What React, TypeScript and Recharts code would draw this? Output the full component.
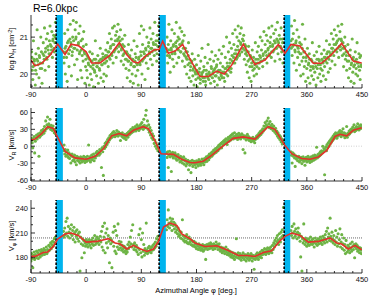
import React from "react";
import {
  ComposedChart,
  XAxis,
  YAxis,
  Scatter,
  Line,
  ReferenceArea,
  ReferenceLine,
} from "recharts";

const GREEN = "#6db445";
const RED = "#e3302a";
const CYAN = "#00b4ee";
const FONT = "'Liberation Sans', Arial, sans-serif";

const xTicks = [-90, -75, -60, -45, -30, -15, 0, 15, 30, 45, 60, 75, 90, 105, 120, 135, 150, 165, 180, 195, 210, 225, 240, 255, 270, 285, 300, 315, 330, 345, 360, 375, 390, 405, 420, 435, 450];
const xMajorTicks = [-90, 0, 90, 180, 270, 360, 450];

const armBands: [number, number][] = [[-49, -38], [119, 130], [323, 333]];

const nhTicks = [19.67, 20, 20.33, 20.67, 21, 21.33];
const nhMajor = [20, 21];
const vrTicks = [-60, -50, -40, -30, -20, -10, 0, 10, 20, 30, 40, 50, 60];
const vrMajor = [-60, -30, 0, 30, 60];
const vpTicks = [170, 180, 190, 200, 210, 220, 230, 240];
const vpMajor = [180, 210, 240];

const nhLine: [number, number][] = [[-90,20.38],[-83.5,20.22],[-72.6,20.29],[-59,20.51],[-46.5,20.81],[-34.5,20.53],[-24.7,20.81],[-12.8,20.77],[0,20.6],[9,20.3],[22.6,20.3],[39,20.51],[54,20.85],[66,20.53],[77,20.33],[85,20.3],[98.7,20.51],[110.6,20.65],[119.3,20.67],[124.8,20.89],[134,20.56],[145,20.62],[157.5,20.8],[169.4,20.4],[185.7,19.93],[199,19.93],[213,20.08],[225.3,20.0],[237.4,20.24],[256.4,20.81],[275.4,20.26],[291.7,20.38],[313.4,20.8],[324.4,20.56],[334,20.8],[348.8,20.76],[370.5,20.29],[384,20.29],[400.5,20.53],[416.8,20.83],[435.8,20.35],[449.5,20.3]];

const vrLine: [number, number][] = [[-90,11],[-83.5,12.7],[-72.6,22.5],[-62.8,34.7],[-53.6,31.7],[-46.5,15.6],[-34.5,-9.4],[-18.2,-20.8],[0,-23.2],[14.6,-18],[28.1,-4.7],[41.6,18.4],[54,22.5],[66,18.4],[77,28.3],[93.2,34.7],[101.4,31.2],[112.3,9.7],[122.1,-13.4],[142.2,-14.6],[155.8,-23.2],[169.4,-29],[177.5,-29.5],[191,-26.7],[204.6,-16.3],[220.9,-1.7],[239.8,13.9],[256.4,16.6],[275.4,12.7],[297,34.7],[308,30],[324.4,1],[335.3,-13.4],[351.6,-22],[365.3,-23.2],[378.8,-19.1],[392.5,-7.6],[406,17.3],[414.1,21.3],[425,18.4],[435.8,28.3],[449.5,33]];

const vpLine: [number, number][] = [[-90,181.6],[-83.5,181.6],[-70,186.4],[-62.8,186.9],[-53.6,193.7],[-46.5,202.7],[-34.5,208.8],[-24.7,210],[-12.8,207.1],[0,199],[17.3,199.8],[36.3,203.1],[47.2,197.9],[55.4,196.6],[66.3,190.6],[77.2,195],[88,191],[99,187.7],[109.9,190.6],[118,199.8],[126.2,217.3],[136.8,222.1],[147.8,219.2],[156,208.8],[169.4,203.1],[177.5,197.9],[193.9,193.7],[213,194.6],[229.3,189.7],[248.3,182.8],[262,182.8],[275.4,181.6],[289,186.4],[302.6,188.5],[316.3,200.6],[324.4,205.9],[335.3,210],[349,207.1],[362.5,199],[378.8,199.8],[397.8,204],[408.7,197.9],[416.8,196.6],[427.7,190.6],[438.6,195],[449.5,189.7]];

const nhSpread: [number, number][] = [
[-89,20.6],[-88,20.1],[-87,19.85],[-86,20.9],[-85,20.4],[-84,20.25],[-83,19.7],[-82,20.55],[-81,20.0],[-80,21.2],[-79,20.35],[-78,20.7],[-77,19.9],[-76,20.45],[-75,20.15],[-74,21.0],[-73,20.6],[-72,19.75],[-71,20.3],[-70,20.85],[-69,20.5],[-68,21.25],[-67,20.1],[-66,20.7],[-65,20.95],[-64,20.4],[-63,21.1],[-62,20.65],[-61,20.2],[-60,20.9],[-59,21.3],[-58,20.55],[-57,20.75],[-56,21.15],[-55,20.45],[-54,20.95],[-53,21.05],[-52,20.6],[-51,20.85],[-50,21.4],
[-37,20.6],[-36,20.3],[-35,21.1],[-34,20.0],[-33,20.75],[-32,20.45],[-31,19.8],[-30,21.2],[-29,20.9],[-28,20.2],[-27,20.65],[-26,21.35],[-25,20.85],[-24,19.95],[-23,20.5],[-22,21.0],[-21,21.45],[-20,20.7],[-19,20.25],[-18,21.2],[-17,20.95],[-16,21.4],[-15,20.4],[-14,19.85],[-13,20.8],[-12,21.1],[-11,20.55],[-10,21.3],[-9,20.1],[-8,20.65],[-7,19.9],[-6,20.95],[-5,20.35],[-4,21.15],[-3,20.6],[-2,19.75],[-1,20.2],[0,20.8],
[1,20.1],[2,19.9],[3,20.45],[4,20.25],[5,19.7],[6,20.6],[7,20.0],[8,20.35],[9,19.85],[10,20.55],[11,20.15],[12,19.65],[13,20.4],[14,20.05],[15,20.9],[16,20.3],[17,19.95],[18,20.2],[19,20.5],[20,19.75],[21,20.35],[22,20.1],[23,20.7],[24,19.9],[25,20.4],[26,20.25],[27,20.55],[28,19.8],[29,20.0],[30,20.45],[31,20.3],[32,20.65],[33,19.95],[34,20.5],[35,20.85],[36,20.2],[37,20.6],[38,21.1],[39,20.4],[40,20.75],
[41,20.95],[42,20.5],[43,21.25],[44,20.3],[45,20.8],[46,21.3],[47,20.65],[48,21.05],[49,20.45],[50,21.15],[51,20.9],[52,21.35],[53,20.6],[54,21.0],[55,20.8],[56,21.2],[57,20.35],[58,20.7],[59,20.95],[60,20.5],[61,20.25],[62,20.75],[63,21.05],[64,20.4],[65,20.15],[66,20.6],[67,19.9],[68,20.35],[69,20.8],[70,20.1],[71,20.5],[72,19.8],[73,20.25],[74,20.65],[75,20.0],[76,20.4],[77,19.75],[78,20.9],[79,20.2],[80,20.55],
[81,19.95],[82,20.3],[83,20.75],[84,20.1],[85,19.7],[86,20.45],[87,21.1],[88,20.25],[89,20.6],[90,21.3],[91,20.0],[92,20.8],[93,20.4],[94,21.2],[95,20.55],[96,19.85],[97,20.7],[98,20.3],[99,21.0],[100,20.5],[101,20.15],[102,20.85],[103,20.6],[104,21.25],[105,20.4],[106,20.95],[107,20.7],[108,20.25],[109,21.1],[110,20.8],[111,20.5],[112,21.4],[113,20.65],[114,20.9],[115,20.35],[116,21.05],[117,20.75],[118,21.3],
[131,20.6],[132,21.0],[133,20.3],[134,20.8],[135,21.35],[136,20.5],[137,20.05],[138,20.9],[139,20.65],[140,21.2],[141,20.4],[142,20.75],[143,20.2],[144,21.1],[145,20.55],[146,20.85],[147,21.4],[148,20.3],[149,20.7],[150,21.0],[151,20.45],[152,20.95],[153,21.25],[154,20.6],[155,20.8],[156,21.15],[157,20.35],[158,20.9],[159,20.55],[160,21.05],[161,20.2],[162,20.7],[163,20.45],[164,20.0],[165,20.6],[166,20.25],[167,20.85],[168,19.9],[169,20.4],[170,20.1],
[171,19.8],[172,20.3],[173,20.55],[174,19.95],[175,20.15],[176,19.7],[177,20.4],[178,20.05],[179,19.85],[180,20.25],[181,19.65],[182,20.0],[183,20.5],[184,19.9],[185,20.15],[186,19.75],[187,20.35],[188,19.95],[189,20.7],[190,20.05],[191,19.8],[192,20.2],[193,19.9],[194,20.45],[195,19.7],[196,20.1],[197,19.95],[198,20.3],[199,20.8],[200,19.85],[201,20.0],[202,20.4],[203,19.75],[204,20.2],[205,20.6],[206,19.9],[207,20.05],[208,20.35],[209,19.8],[210,20.15],
[211,20.5],[212,19.95],[213,20.25],[214,19.7],[215,20.4],[216,20.1],[217,20.65],[218,19.85],[219,20.3],[220,20.0],[221,20.55],[222,19.9],[223,20.2],[224,20.75],[225,20.05],[226,19.8],[227,20.45],[228,20.15],[229,21.0],[230,20.3],[231,19.95],[232,20.6],[233,20.2],[234,20.85],[235,20.4],[236,20.05],[237,20.7],[238,20.5],[239,21.1],[240,20.3],[241,20.8],[242,20.55],[243,21.2],[244,20.65],[245,20.4],[246,21.0],[247,20.75],[248,21.3],[249,20.9],[250,20.5],
[251,21.1],[252,20.85],[253,21.25],[254,20.6],[255,20.95],[256,20.7],[257,21.05],[258,20.4],[259,20.8],[260,20.55],[261,20.25],[262,20.6],[263,20.05],[264,20.35],[265,20.75],[266,19.9],[267,20.2],[268,20.5],[269,19.8],[270,20.3],[271,20.65],[272,20.1],[273,20.45],[274,19.95],[275,20.25],[276,20.85],[277,20.4],[278,20.0],[279,20.6],[280,20.3],
[281,20.75],[282,20.15],[283,20.5],[284,21.0],[285,20.35],[286,20.65],[287,20.9],[288,20.2],[289,20.55],[290,21.15],[291,20.4],[292,20.8],[293,20.6],[294,21.05],[295,20.3],[296,20.9],[297,20.7],[298,21.25],[299,20.5],[300,20.85],[301,21.0],[302,20.45],[303,21.3],[304,20.75],[305,20.6],[306,21.1],[307,20.9],[308,20.35],[309,21.2],[310,20.7],[311,20.95],[312,21.4],[313,20.55],[314,20.85],[315,21.05],[316,20.4],[317,20.75],[318,21.25],[319,20.6],[320,20.95],[321,20.3],
[334,20.9],[335,21.3],[336,20.5],[337,20.75],[338,21.1],[339,20.3],[340,21.45],[341,20.6],[342,20.85],[343,20.1],[344,21.2],[345,20.45],[346,20.7],[347,21.0],[348,20.25],[349,20.55],[350,19.95],[351,20.8],[352,20.35],[353,21.35],[354,20.0],[355,20.6],[356,20.2],[357,20.95],[358,19.8],[359,20.45],[360,20.15],[361,20.7],[362,19.9],[363,20.3],[364,20.55],[365,19.75],[366,20.1],[367,20.4],[368,19.95],[369,20.85],[370,20.2],
[371,19.85],[372,20.5],[373,20.05],[374,20.3],[375,19.7],[376,20.6],[377,20.15],[378,19.9],[379,20.4],[380,20.75],[381,20.0],[382,20.25],[383,19.8],[384,20.55],[385,20.1],[386,20.35],[387,19.95],[388,20.65],[389,20.2],[390,20.45],[391,19.85],[392,20.9],[393,20.3],[394,20.6],[395,20.05],[396,20.4],[397,20.8],[398,20.15],[399,20.55],[400,21.1],
[401,20.35],[402,20.7],[403,20.95],[404,20.5],[405,21.2],[406,20.25],[407,20.8],[408,21.05],[409,20.6],[410,20.9],[411,21.3],[412,20.45],[413,20.75],[414,21.15],[415,20.65],[416,20.95],[417,21.35],[418,20.5],[419,20.85],[420,20.2],[421,20.7],[422,21.0],[423,20.4],[424,20.6],[425,20.1],[426,20.35],[427,20.8],[428,19.9],[429,20.5],[430,20.15],[431,20.65],[432,19.8],[433,20.3],[434,20.95],[435,20.05],[436,20.45],[437,19.75],[438,20.25],[439,20.6],[440,20.0],[441,20.4],[442,20.85],[443,19.95],[444,20.3],[445,20.55],[446,20.1],[447,19.85],[448,20.5],[449,20.2]
];

const nhCore: [number, number][] = [
[-88.5,20.45],[-86.5,20.2],[-84.5,20.35],[-82.5,20.1],[-80.5,20.4],[-78.5,20.25],[-76.5,20.5],[-74.5,20.3],[-72.5,20.15],[-70.5,20.55],[-68.5,20.4],[-66.5,20.6],[-64.5,20.45],[-62.5,20.75],[-60.5,20.55],[-58.5,20.8],[-56.5,20.65],[-54.5,20.9],[-52.5,20.7],[-50.5,21.0],
[-36.5,20.45],[-34.5,20.7],[-32.5,20.6],[-30.5,20.85],[-28.5,20.55],[-26.5,20.95],[-24.5,20.75],[-22.5,20.6],[-20.5,20.9],[-18.5,20.7],[-16.5,21.0],[-14.5,20.65],[-12.5,20.85],[-10.5,20.6],[-8.5,20.9],[-6.5,20.5],[-4.5,20.75],[-2.5,20.55],[-0.5,20.4],
[1.5,20.5],[3.5,20.3],[5.5,20.4],[7.5,20.2],[9.5,20.35],[11.5,20.25],[13.5,20.1],[15.5,20.4],[17.5,20.2],[19.5,20.3],[21.5,20.15],[23.5,20.4],[25.5,20.25],[27.5,20.45],[29.5,20.3],[31.5,20.5],[33.5,20.35],[35.5,20.6],[37.5,20.45],[39.5,20.7],[41.5,20.55],[43.5,20.8],[45.5,20.6],[47.5,20.9],[49.5,20.7],[51.5,20.95],[53.5,20.75],[55.5,20.9],[57.5,20.65],[59.5,20.8],[61.5,20.55],[63.5,20.6],[65.5,20.4],[67.5,20.55],[69.5,20.35],[71.5,20.45],[73.5,20.3],[75.5,20.4],[77.5,20.2],[79.5,20.35],[81.5,20.45],[83.5,20.25],[85.5,20.4],[87.5,20.3],[89.5,20.5],[91.5,20.35],[93.5,20.6],[95.5,20.45],[97.5,20.65],[99.5,20.5],[101.5,20.75],[103.5,20.55],[105.5,20.7],[107.5,20.6],[109.5,20.85],[111.5,20.65],[113.5,20.8],[115.5,20.55],[117.5,20.9],
[130.5,20.7],[132.5,20.5],[134.5,20.65],[136.5,20.45],[138.5,20.7],[140.5,20.55],[142.5,20.8],[144.5,20.6],[146.5,20.75],[148.5,20.9],[150.5,20.65],[152.5,20.8],[154.5,20.6],[156.5,20.85],[158.5,20.7],[160.5,20.5],[162.5,20.6],[164.5,20.4],[166.5,20.5],[168.5,20.3],[170.5,20.2],[172.5,20.35],[174.5,20.1],[176.5,20.2],[178.5,20.0],[180.5,20.1],[182.5,19.9],[184.5,20.05],[186.5,19.85],[188.5,20.0],[190.5,19.9],[192.5,20.1],[194.5,19.8],[196.5,20.0],[198.5,19.9],[200.5,20.05],[202.5,19.95],[204.5,20.15],[206.5,20.0],[208.5,20.1],[210.5,19.95],[212.5,20.2],[214.5,20.05],[216.5,19.9],[218.5,20.1],[220.5,19.95],[222.5,20.05],[224.5,19.9],[226.5,20.15],[228.5,20.0],[230.5,20.2],[232.5,20.1],[234.5,20.3],[236.5,20.15],[238.5,20.35],[240.5,20.45],[242.5,20.3],[244.5,20.55],[246.5,20.45],[248.5,20.65],[250.5,20.55],[252.5,20.8],[254.5,20.7],[256.5,20.9],[258.5,20.65],[260.5,20.75],[262.5,20.5],[264.5,20.6],[266.5,20.4],[268.5,20.45],[270.5,20.2],[272.5,20.35],[274.5,20.15],[276.5,20.3],[278.5,20.2],[280.5,20.4],[282.5,20.3],[284.5,20.45],[286.5,20.35],[288.5,20.5],[290.5,20.4],[292.5,20.6],[294.5,20.5],[296.5,20.65],[298.5,20.55],[300.5,20.75],[302.5,20.6],[304.5,20.8],[306.5,20.65],[308.5,20.85],[310.5,20.7],[312.5,20.9],[314.5,20.75],[316.5,20.95],[318.5,20.7],[320.5,20.85],
[334.5,20.7],[336.5,20.95],[338.5,20.8],[340.5,20.65],[342.5,20.9],[344.5,20.75],[346.5,20.6],[348.5,20.85],[350.5,20.55],[352.5,20.7],[354.5,20.45],[356.5,20.6],[358.5,20.35],[360.5,20.5],[362.5,20.25],[364.5,20.4],[366.5,20.2],[368.5,20.35],[370.5,20.15],[372.5,20.3],[374.5,20.2],[376.5,20.4],[378.5,20.25],[380.5,20.35],[382.5,20.15],[384.5,20.4],[386.5,20.3],[388.5,20.45],[390.5,20.35],[392.5,20.55],[394.5,20.45],[396.5,20.6],[398.5,20.5],[400.5,20.7],[402.5,20.6],[404.5,20.8],[406.5,20.65],[408.5,20.85],[410.5,20.7],[412.5,20.95],[414.5,20.75],[416.5,20.9],[418.5,20.7],[420.5,20.55],[422.5,20.75],[424.5,20.5],[426.5,20.6],[428.5,20.35],[430.5,20.5],[432.5,20.25],[434.5,20.4],[436.5,20.2],[438.5,20.35],[440.5,20.15],[442.5,20.3],[444.5,20.2],[446.5,20.45],[448.5,20.25]
];

const vrPoints: [number, number][] = [
[-90,10],[-89,14],[-88,6],[-87,-3],[-86,12],[-85,17],[-84,-12],[-83,9],[-82,15],[-81,20],[-80,13],[-79,18],[-78,22],[-77,-18],[-76,16],[-75,24],[-74,19],[-73,28],[-72,21],[-71,26],[-70,30],[-69,23],[-68,35],[-67,27],[-66,45],[-65,31],[-64,38],[-63,52],[-62,33],[-61,40],[-60,36],[-59,48],[-58,30],[-57,37],[-56,34],[-55,28],[-54,36],[-53,30],[-52,24],[-51,29],[-50,22],
[-37,-8],[-36,2],[-35,-14],[-34,-6],[-33,-18],[-32,-10],[-31,-16],[-30,-7],[-29,-20],[-28,-12],[-27,-22],[-26,-15],[-25,-30],[-24,-18],[-23,-14],[-22,-26],[-21,-19],[-20,-24],[-19,-16],[-18,-28],[-17,-21],[-16,-33],[-15,-18],[-14,-25],[-13,-20],[-12,-27],[-11,-22],[-10,-30],[-9,-19],[-8,-24],[-7,-28],[-6,-21],[-5,-26],[-4,-18],[-3,-25],[-2,-29],[-1,-20],[0,-24],
[1,-27],[2,-18],[3,-23],[4,2],[5,-25],[6,-19],[7,-28],[8,-22],[9,-16],[10,-24],[11,-20],[12,-14],[13,-26],[14,-18],[15,-21],[16,-12],[17,-17],[18,-9],[19,-15],[20,-11],[21,-16],[22,-6],[23,-13],[24,-7],[25,-38],[26,-3],[27,-10],[28,-52],[29,0],[30,-4],[31,5],[32,-1],[33,8],[34,3],[35,12],[36,7],[37,15],[38,11],[39,19],[40,14],[41,21],[42,16],[43,24],[44,18],[45,26],[46,20],[47,17],[48,23],[49,19],[50,28],[51,21],[52,18],[53,25],[54,20],[55,23],[56,10],[57,22],[58,18],[59,24],[60,16],[61,20],[62,14],[63,21],[64,17],[65,12],[66,19],[67,23],[68,16],[69,25],[70,20],[71,27],[72,22],[73,30],[74,24],[75,28],[76,33],[77,26],[78,31],[79,29],[80,35],[81,27],[82,32],[83,38],[84,30],[85,34],[86,28],[87,36],[88,31],[89,39],[90,33],[91,42],[92,35],[93,30],[94,48],[95,37],[96,33],[97,55],[98,64],[99,36],[100,45],[101,30],[102,38],[103,25],[104,33],[105,20],[106,28],[107,15],[108,22],[109,12],[110,18],[111,5],[112,11],[113,0],[114,6],[115,-4],[116,2],[117,-8],[118,-3],
[131,-12],[132,-20],[133,-10],[134,-38],[135,-16],[136,-9],[137,-19],[138,-13],[139,-45],[140,-17],[141,-11],[142,-21],[143,-14],[144,-18],[145,-12],[146,-22],[147,-16],[148,-25],[149,-19],[150,-15],[151,-23],[152,-20],[153,-28],[154,-18],[155,-26],[156,-21],[157,-30],[158,-24],[159,-19],[160,-32],[161,-26],[162,-23],[163,-35],[164,-28],[165,-31],[166,-25],[167,-42],[168,-29],[169,-34],[170,-27],[171,-47],[172,-31],[173,-25],[174,-36],[175,-30],[176,-27],[177,-33],[178,-29],[179,-38],[180,-26],[181,-32],[182,-28],[183,-35],[184,-24],[185,-31],[186,-27],[187,-34],[188,-29],[189,-23],[190,-30],[191,-26],[192,-33],[193,-22],[194,-28],[195,-25],[196,-19],[197,-27],[198,-21],[199,-17],[200,-24],[201,-14],[202,-20],[203,-16],[204,-12],[205,-18],[206,-10],[207,-15],[208,-7],[209,-13],[210,-9],[211,-4],[212,-11],[213,-6],[214,-2],[215,-8],[216,1],[217,-5],[218,3],[219,-1],[220,5],[221,-3],[222,7],[223,2],[224,9],[225,4],[226,11],[227,6],[228,13],[229,8],[230,3],[231,12],[232,16],[233,9],[234,14],[235,18],[236,11],[237,20],[238,15],[239,22],[240,13],[241,17],[242,24],[243,14],[244,19],[245,16],[246,21],[247,12],[248,18],[249,23],[250,15],[251,20],[252,13],[253,17],[254,22],[255,16],[256,-6],[257,19],[258,14],[259,-12],[260,18],[261,11],[262,16],[263,21],[264,13],[265,17],[266,10],[267,15],[268,12],[269,8],[270,14],[271,11],[272,16],[273,9],[274,13],[275,6],[276,12],[277,15],[278,18],[279,14],[280,20],[281,17],[282,23],[283,19],[284,26],[285,21],[286,28],[287,24],[288,31],[289,27],[290,36],[291,30],[292,42],[293,33],[294,38],[295,45],[296,35],[297,50],[298,40],[299,33],[300,44],[301,36],[302,31],[303,39],[304,34],[305,28],[306,36],[307,30],[308,25],[309,32],[310,22],[311,27],[312,18],[313,24],[314,15],[315,20],[316,12],[317,17],[318,8],[319,13],[320,4],[321,9],
[334,-10],[335,-16],[336,-30],[337,-12],[338,-18],[339,-14],[340,-21],[341,-36],[342,-17],[343,-23],[344,-19],[345,-26],[346,-21],[347,-18],[348,-28],[349,-22],[350,-25],[351,-20],[352,-31],[353,-24],[354,-19],[355,-27],[356,-22],[357,-34],[358,-25],[359,-20],[360,-28],[361,-23],[362,-18],[363,-26],[364,-21],[365,-29],[366,-24],[367,-19],[368,-27],[369,-22],[370,-17],[371,-25],[372,-20],[373,-16],[374,-23],[375,-18],[376,-2],[377,-21],[378,-15],[379,-19],[380,-13],[381,-17],[382,-10],[383,-15],[384,-8],[385,-12],[386,0],[387,-9],[388,-4],[389,-51],[390,-6],[391,-1],[392,-8],[393,3],[394,-3],[395,6],[396,0],[397,9],[398,4],[399,12],[400,7],[401,15],[402,10],[403,18],[404,13],[405,21],[406,16],[407,24],[408,19],[409,14],[410,22],[411,18],[412,25],[413,20],[414,28],[415,23],[416,17],[417,26],[418,21],[419,31],[420,19],[421,24],[422,15],[423,22],[424,18],[425,35],[426,16],[427,23],[428,20],[429,27],[430,22],[431,29],[432,25],[433,31],[434,27],[435,34],[436,29],[437,38],[438,26],[439,32],[440,28],[441,35],[442,30],[443,40],[444,33],[445,29],[446,36],[447,31],[448,38],[449,34],[450,32]
];

const vpPoints: [number, number][] = [
[-90,176],[-89,185],[-88,179],[-87,168],[-86,183],[-85,187],[-84,178],[-83,184],[-82,180],[-81,188],[-80,182],[-79,186],[-78,179],[-77,189],[-76,184],[-75,181],[-74,187],[-73,190],[-72,183],[-71,188],[-70,185],[-69,191],[-68,184],[-67,189],[-66,186],[-65,193],[-64,185],[-63,190],[-62,188],[-61,195],[-60,189],[-59,193],[-58,198],[-57,191],[-56,196],[-55,200],[-54,194],[-53,199],[-52,203],[-51,197],[-50,205],
[-37,212],[-36,205],[-35,216],[-34,208],[-33,224],[-32,210],[-31,228],[-30,206],[-29,218],[-28,211],[-27,204],[-26,215],[-25,209],[-24,220],[-23,207],[-22,213],[-21,202],[-20,217],[-19,210],[-18,199],[-17,212],[-16,206],[-15,214],[-14,203],[-13,209],[-12,200],[-11,211],[-10,164],[-9,205],[-8,197],[-7,180],[-6,203],[-5,195],[-4,201],[-3,186],[-2,198],[-1,194],[0,202],
[1,196],[2,200],[3,193],[4,198],[5,202],[6,195],[7,199],[8,192],[9,201],[10,197],[11,204],[12,195],[13,200],[14,207],[15,196],[16,202],[17,198],[18,205],[19,199],[20,203],[21,196],[22,201],[23,206],[24,199],[25,212],[26,193],[27,218],[28,189],[29,205],[30,222],[31,186],[32,210],[33,198],[34,215],[35,192],[36,207],[37,200],[38,174],[39,204],[40,197],[41,202],[42,168],[43,199],[44,211],[45,194],[46,218],[47,188],[48,213],[49,185],[50,207],[51,193],[52,221],[53,190],[54,200],[55,196],[56,192],[57,199],[58,189],[59,195],[60,191],[61,187],[62,194],[63,188],[64,192],[65,185],[66,190],[67,187],[68,196],[69,191],[70,199],[71,194],[72,205],[73,197],[74,213],[75,193],[76,220],[77,196],[78,190],[79,198],[80,193],[81,189],[82,195],[83,187],[84,192],[85,184],[86,208],[87,190],[88,215],[89,186],[90,202],[91,181],[92,210],[93,188],[94,196],[95,183],[96,191],[97,186],[98,222],[99,189],[100,185],[101,192],[102,187],[103,194],[104,188],[105,191],[106,186],[107,193],[108,189],[109,195],[110,190],[111,197],[112,192],[113,199],[114,194],[115,203],[116,197],[117,206],[118,201],
[131,214],[132,226],[133,218],[134,238],[135,222],[136,216],[137,228],[138,220],[139,224],[140,213],[141,227],[142,219],[143,223],[144,215],[145,221],[146,211],[147,218],[148,214],[149,209],[150,216],[151,206],[152,212],[153,208],[154,204],[155,211],[156,203],[157,226],[158,207],[159,201],[160,206],[161,199],[162,204],[163,200],[164,208],[165,198],[166,203],[167,197],[168,205],[169,199],[170,202],[171,196],[172,201],[173,195],[174,199],[175,194],[176,200],[177,196],[178,193],[179,198],[180,191],[181,196],[182,194],[183,190],[184,197],[185,192],[186,195],[187,189],[188,194],[189,191],[190,196],[191,188],[192,193],[193,190],[194,195],[195,178],[196,192],[197,196],[198,190],[199,194],[200,197],[201,191],[202,195],[203,198],[204,192],[205,196],[206,193],[207,190],[208,197],[209,194],[210,191],[211,195],[212,199],[213,193],[214,196],[215,190],[216,194],[217,197],[218,191],[219,188],[220,193],[221,190],[222,186],[223,192],[224,188],[225,191],[226,185],[227,189],[228,193],[229,187],[230,184],[231,190],[232,186],[233,183],[234,188],[235,185],[236,181],[237,187],[238,183],[239,180],[240,186],[241,182],[242,178],[243,185],[244,181],[245,203],[246,184],[247,180],[248,186],[249,182],[250,179],[251,185],[252,181],[253,177],[254,183],[255,180],[256,186],[257,182],[258,178],[259,184],[260,181],[261,176],[262,183],[263,179],[264,185],[265,181],[266,177],[267,183],[268,179],[269,185],[270,181],[271,176],[272,183],[273,179],[274,166],[275,182],[276,178],[277,184],[278,180],[279,186],[280,182],[281,178],[282,185],[283,181],[284,187],[285,183],[286,180],[287,189],[288,184],[289,188],[290,185],[291,191],[292,187],[293,184],[294,190],[295,186],[296,192],[297,188],[298,185],[299,191],[300,187],[301,193],[302,189],[303,186],[304,195],[305,190],[306,198],[307,193],[308,201],[309,196],[310,204],[311,199],[312,207],[313,201],[314,196],[315,209],[316,203],[317,199],[318,211],[319,205],[320,214],[321,207],[322,241],
[334,213],[335,207],[336,218],[337,210],[338,204],[339,221],[340,212],[341,206],[342,215],[343,209],[344,203],[345,211],[346,216],[347,205],[348,209],[349,200],[350,181],[351,206],[352,164],[353,203],[354,198],[355,221],[356,201],[357,196],[358,204],[359,199],[360,194],[361,202],[362,197],[363,203],[364,195],[365,200],[366,205],[367,197],[368,201],[369,196],[370,203],[371,198],[372,193],[373,200],[374,204],[375,197],[376,201],[377,195],[378,199],[379,203],[380,197],[381,201],[382,205],[383,198],[384,202],[385,196],[386,206],[387,200],[388,204],[389,198],[390,208],[391,202],[392,212],[393,199],[394,216],[395,205],[396,209],[397,201],[398,228],[399,206],[400,200],[401,211],[402,203],[403,198],[404,207],[405,201],[406,196],[407,213],[408,199],[409,205],[410,194],[411,209],[412,197],[413,202],[414,215],[415,193],[416,199],[417,208],[418,191],[419,197],[420,204],[421,189],[422,196],[423,185],[424,201],[425,192],[426,187],[427,195],[428,189],[429,193],[430,186],[431,197],[432,191],[433,188],[434,199],[435,194],[436,190],[437,196],[438,180],[439,193],[440,197],[441,191],[442,195],[443,188],[444,193],[445,190],[446,186],[447,192],[448,189],[449,185],[450,191]
];

const toObj = (arr: [number, number][]) => arr.map(([x, y]) => ({ x, y }));

const isIn = (v: number, list: number[]) => list.some((m) => Math.abs(m - v) < 1e-6);

const BottomTick = (props: any) => {
  const { x, y, payload } = props;
  const v = payload.value;
  const major = isIn(v, xMajorTicks);
  return (
    <g>
      <line x1={x} y1={y} x2={x} y2={y - (major ? 4 : 2)} stroke="#000" strokeWidth={0.8} />
      {major && (
        <text x={x} y={y + 9} textAnchor="middle" fontSize={7.5} fontFamily={FONT} fill="#111">
          {v}
        </text>
      )}
    </g>
  );
};

const TopTick = (props: any) => {
  const { x, y, payload } = props;
  const major = isIn(payload.value, xMajorTicks);
  return <line x1={x} y1={y} x2={x} y2={y + (major ? 4 : 2)} stroke="#000" strokeWidth={0.8} />;
};

const makeLeftTick = (majors: number[]) => (props: any) => {
  const { x, y, payload } = props;
  const v = payload.value;
  const major = isIn(v, majors);
  return (
    <g>
      <line x1={x} y1={y} x2={x + (major ? 4 : 2)} y2={y} stroke="#000" strokeWidth={0.8} />
      {major && (
        <text x={x - 3} y={y} dy="0.35em" textAnchor="end" fontSize={7.5} fontFamily={FONT} fill="#111">
          {v}
        </text>
      )}
    </g>
  );
};

const makeRightTick = (majors: number[]) => (props: any) => {
  const { x, y, payload } = props;
  const major = isIn(payload.value, majors);
  return <line x1={x} y1={y} x2={x - (major ? 4 : 2)} y2={y} stroke="#000" strokeWidth={0.8} />;
};

const dot = (p: any) => <circle cx={p.cx} cy={p.cy} r={1.55} fill={GREEN} />;

type PanelProps = {
  top: number;
  height: number;
  marginTop: number;
  marginBottom: number;
  points: [number, number][];
  line: [number, number][];
  domain: [number, number];
  yTicks: number[];
  yMajor: number[];
  refY?: number;
  refStroke?: string;
  refDash?: string;
};

function Panel(p: PanelProps) {
  const LeftTick = makeLeftTick(p.yMajor);
  const RightTick = makeRightTick(p.yMajor);
  return (
    <div style={{ position: "absolute", left: 0, top: p.top }}>
      <ComposedChart
        width={374}
        height={p.height}
        margin={{ top: p.marginTop, right: 12, bottom: p.marginBottom, left: 0 }}
      >
        <XAxis
          xAxisId={0}
          type="number"
          dataKey="x"
          domain={[-90, 450]}
          allowDataOverflow
          ticks={xTicks}
          interval={0}
          height={12}
          tickSize={0}
          tickMargin={0}
          tickLine={false}
          axisLine={{ stroke: "#000", strokeWidth: 0.8 }}
          tick={<BottomTick />}
        />
        <XAxis
          xAxisId="top"
          orientation="top"
          type="number"
          domain={[-90, 450]}
          allowDataOverflow
          ticks={xTicks}
          interval={0}
          height={0}
          tickSize={0}
          tickMargin={0}
          tickLine={false}
          axisLine={{ stroke: "#000", strokeWidth: 0.8 }}
          tick={<TopTick />}
        />
        <YAxis
          yAxisId={0}
          type="number"
          dataKey="y"
          domain={p.domain}
          allowDataOverflow
          ticks={p.yTicks}
          interval={0}
          width={31}
          tickSize={0}
          tickMargin={0}
          tickLine={false}
          axisLine={{ stroke: "#000", strokeWidth: 0.8 }}
          tick={<LeftTick />}
        />
        <YAxis
          yAxisId="right"
          orientation="right"
          type="number"
          domain={p.domain}
          allowDataOverflow
          ticks={p.yTicks}
          interval={0}
          width={0}
          tickSize={0}
          tickMargin={0}
          tickLine={false}
          axisLine={{ stroke: "#000", strokeWidth: 0.8 }}
          tick={<RightTick />}
        />
        {p.refY !== undefined && (
          <ReferenceLine
            y={p.refY}
            stroke={p.refStroke}
            strokeDasharray={p.refDash}
            strokeWidth={0.8}
            zIndex={50}
          />
        )}
        <Scatter data={toObj(p.points)} shape={dot} isAnimationActive={false} zIndex={100} />
        {armBands.map(([a, b], i) => (
          <ReferenceArea
            key={"a" + i}
            x1={a}
            x2={b}
            fill={CYAN}
            fillOpacity={1}
            stroke="none"
            ifOverflow="hidden"
            zIndex={200}
          />
        ))}
        {armBands.map(([a], i) => (
          <ReferenceLine
            key={"l" + i}
            x={a}
            stroke="#000"
            strokeWidth={1.6}
            strokeDasharray="2.5 1.5"
            zIndex={300}
          />
        ))}
        <Line
          data={toObj(p.line)}
          dataKey="y"
          type="linear"
          stroke={RED}
          strokeWidth={1.6}
          dot={false}
          isAnimationActive={false}
          zIndex={400}
        />
      </ComposedChart>
    </div>
  );
}

export default function App() {
  return (
    <div style={{ position: "fixed", left: 0, top: 0, width: 374, height: 299, background: "#fff", overflow: "hidden" }}>
      <Panel
        top={0}
        height={100}
        marginTop={15}
        marginBottom={0}
        points={[...nhSpread, ...nhCore]}
        line={nhLine}
        domain={[19.62, 21.6]}
        yTicks={nhTicks}
        yMajor={nhMajor}
      />
      <Panel
        top={95}
        height={100}
        marginTop={13}
        marginBottom={2}
        points={vrPoints}
        line={vrLine}
        domain={[-62, 68]}
        yTicks={vrTicks}
        yMajor={vrMajor}
        refY={0}
        refStroke="#c4c4c4"
        refDash="1 1.5"
      />
      <Panel
        top={190}
        height={109}
        marginTop={10}
        marginBottom={14}
        points={vpPoints}
        line={vpLine}
        domain={[161.5, 250]}
        yTicks={vpTicks}
        yMajor={vpMajor}
        refY={204}
        refStroke="#444"
        refDash="1 1"
      />
      <svg width={374} height={299} style={{ position: "absolute", left: 0, top: 0, pointerEvents: "none" }}>
        <text x={33} y={12} fontSize={10.5} fontFamily={FONT} fill="#000">R=6.0kpc</text>
        <text transform="translate(14,49) rotate(-90)" textAnchor="middle" fontSize={7.5} fontFamily={FONT} fill="#000">
          log N<tspan fontSize={5.5} dy={1.5}>H</tspan><tspan dy={-1.5}> [cm</tspan><tspan fontSize={5.5} dy={-2.5}>-2</tspan><tspan dy={2.5}>]</tspan>
        </text>
        <text transform="translate(14,145) rotate(-90)" textAnchor="middle" fontSize={7.5} fontFamily={FONT} fill="#000">
          V<tspan fontSize={5.5} dy={1.5}>R</tspan><tspan dy={-1.5}> [km/s]</tspan>
        </text>
        <text transform="translate(14,236) rotate(-90)" textAnchor="middle" fontSize={7.5} fontFamily={FONT} fill="#000">
          V<tspan fontSize={5.5} dy={1.5}>φ</tspan><tspan dy={-1.5}> [km/s]</tspan>
        </text>
        <text x={196} y={293} textAnchor="middle" fontSize={7.5} fontFamily={FONT} fill="#000">
          Azimuthal Angle φ [deg.]
        </text>
      </svg>
    </div>
  );
}
